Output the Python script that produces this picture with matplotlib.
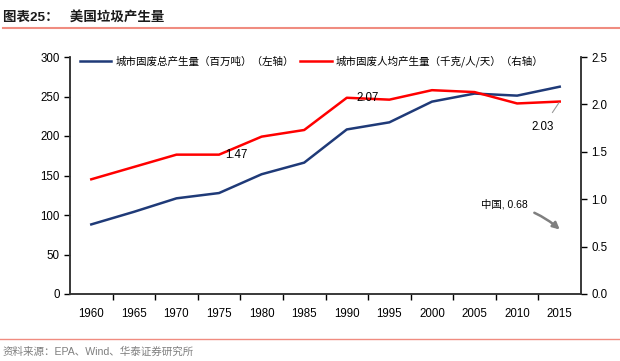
import numpy as np
import matplotlib
matplotlib.use("Agg")
import matplotlib.pyplot as plt
from matplotlib.lines import Line2D

plt.rcParams['font.family'] = ['Liberation Sans', 'Noto Sans CJK SC', 'DejaVu Sans']

years = ["1960", "1965", "1970", "1975", "1980", "1985",
         "1990", "1995", "2000", "2005", "2010", "2015"]
total_mt = [88.1, 104.0, 121.1, 127.8, 151.6, 166.3,
            208.3, 217.3, 243.5, 253.7, 251.1, 262.4]
per_capita = [1.21, 1.34, 1.47, 1.47, 1.66, 1.73,
              2.07, 2.05, 2.15, 2.13, 2.01, 2.03]
china_value = 0.68

navy = "#1F3A78"
red = "#FF0000"

fig = plt.figure(figsize=(6.2, 3.61), dpi=100)
ax = fig.add_axes([70 / 620, 1 - 294 / 361, 511 / 620, 237 / 361])
ax2 = ax.twinx()

x = np.arange(len(years))
ax.plot(x, total_mt, color=navy, lw=1.8, zorder=3)
ax2.plot(x, per_capita, color=red, lw=1.8, zorder=3)

ax.set_xlim(-0.5, len(years) - 0.5)
ax.set_ylim(0, 300)
ax.set_yticks(np.arange(0, 301, 50))
ax2.set_ylim(0, 2.5)
ax2.set_yticks(np.arange(0, 2.51, 0.5))
ax2.set_yticklabels([f"{v:.1f}" for v in np.arange(0, 2.51, 0.5)])

ax.set_xticks(x)
ax.set_xticklabels(years)
ax.set_xticks(np.arange(0.5, len(years) - 1, 1), minor=True)
ax.tick_params(axis="x", which="major", length=0, labelsize=8.3, pad=10)
ax.tick_params(axis="x", which="minor", length=4, width=1, direction="out")
ax.tick_params(axis="y", length=4, width=1, labelsize=8.3, direction="out")
ax2.tick_params(axis="y", length=4, width=1, labelsize=8.3, direction="out")

for a in (ax, ax2):
    a.spines["top"].set_visible(False)
    for s in ("left", "right", "bottom"):
        a.spines[s].set_linewidth(1.1)
        a.spines[s].set_color("#333333")

# data labels
ax2.text(3.4, 1.47, "1.47", fontsize=8.3, ha="center", va="center")
ax2.text(6.5, 2.07, "2.07", fontsize=8.3, ha="center", va="center")
ax2.annotate("2.03", xy=(11, per_capita[-1]), xytext=(10.6, 1.76),
             fontsize=8.3, ha="center", va="center",
             arrowprops=dict(arrowstyle="-", color="#999999", lw=0.8,
                             shrinkA=5, shrinkB=1))
ax2.annotate("中国, 0.68", xy=(11, china_value), xytext=(10.25, 0.95),
             fontsize=7.5, ha="right", va="center",
             arrowprops=dict(arrowstyle="-|>", color="#7F7F7F", lw=1.8,
                             mutation_scale=10,
                             connectionstyle="arc3,rad=-0.15",
                             shrinkA=3, shrinkB=0))

handles = [Line2D([], [], color=navy, lw=1.8),
           Line2D([], [], color=red, lw=1.8)]
labels = ["城市固废总产生量（百万吨）（左轴）",
          "城市固废人均产生量（千克/人/天）（右轴）"]
ax.legend(handles, labels, loc="upper left", ncol=2, frameon=False,
          bbox_to_anchor=(0.0, 1.045), handlelength=3.0,
          handletextpad=0.4, columnspacing=0.6,
          prop={"family": ["Noto Sans CJK SC"], "size": 7.6})

# header and footer
fig.text(3 / 620, 1 - 18 / 361, "图表25：   美国垃圾产生量", fontsize=9.7,
         fontweight="bold", ha="left", va="center", color="#1a1a1a")
fig.add_artist(Line2D([3 / 620, 1], [1 - 28 / 361] * 2, color="#F08C80", lw=1.5))
fig.add_artist(Line2D([0, 1], [1 - 339 / 361] * 2, color="#F08C80", lw=1.0))
fig.text(3 / 620, 1 - 352 / 361, "资料来源：EPA、Wind、华泰证券研究所", fontsize=7.6,
         ha="left", va="center", color="#7F7F7F")

fig.savefig("out.png", dpi=100)
